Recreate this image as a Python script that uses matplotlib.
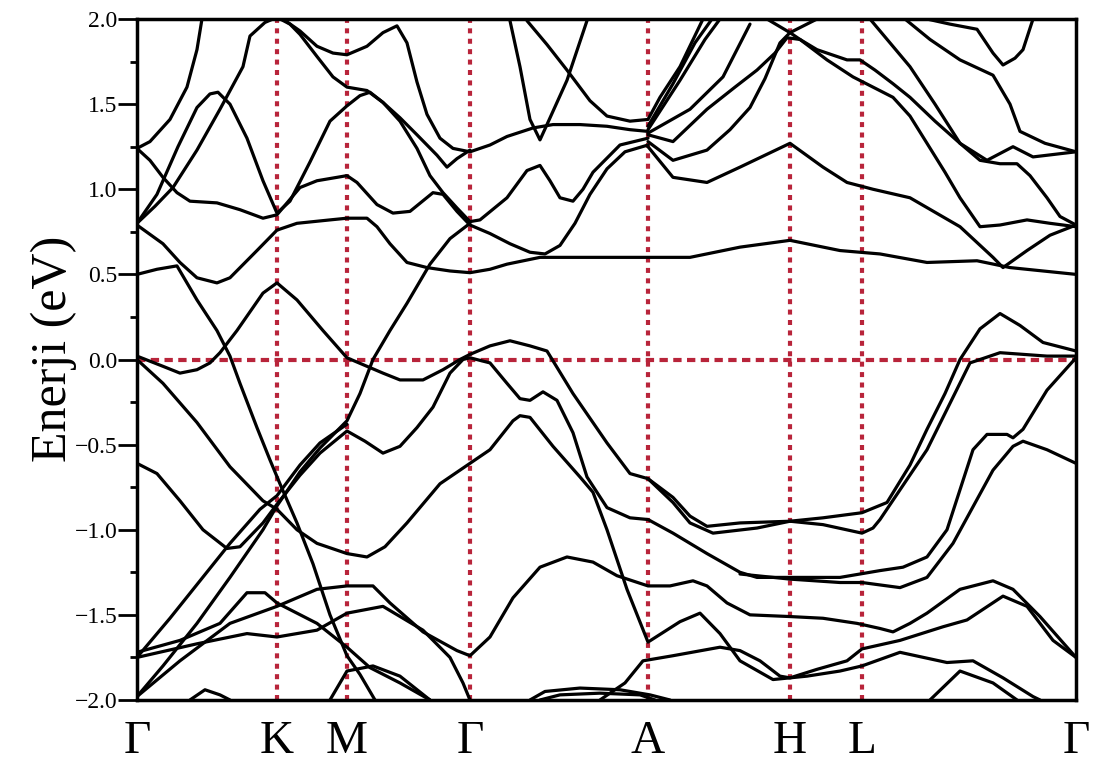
import numpy as np
import matplotlib
matplotlib.use("Agg")
import matplotlib.pyplot as plt
from matplotlib.ticker import MultipleLocator, FuncFormatter

'''Band structure data read from the figure'''

# high symmetry points along the path (path distance, arbitrary units)
kpoint_pos = [137, 277, 347, 470, 648, 790, 862, 1076]
kpoint_labels = ["Γ", "K", "M", "Γ", "A", "H", "L", "Γ"]

# each band: list of (path distance, energy in eV)
bands = [
    # --- upper bands ---
    [(137, 1.24), (150, 1.28), (170, 1.41), (187, 1.60), (197, 1.82), (202, 2.0)],
    [(137, 0.80), (155, 0.90), (173, 1.01), (197, 1.23), (220, 1.47), (243, 1.72), (250, 1.90),
     (265, 1.98), (277, 2.01), (290, 1.97), (300, 1.91), (317, 1.78), (333, 1.66), (347, 1.60),
     (367, 1.58), (383, 1.51), (400, 1.42), (417, 1.32), (437, 1.20), (447, 1.13), (457, 1.18),
     (470, 1.23)],
    [(137, 0.80), (157, 0.97), (178, 1.25), (197, 1.48), (210, 1.56), (218, 1.57), (230, 1.50),
     (247, 1.30), (263, 1.05), (277, 0.86), (290, 0.93), (310, 1.16), (330, 1.40), (347, 1.49),
     (360, 1.55), (370, 1.57), (383, 1.51), (400, 1.40), (417, 1.24), (430, 1.08), (443, 0.98),
     (457, 0.89), (470, 0.81), (480, 0.82), (507, 0.95), (527, 1.11), (540, 1.14), (550, 1.05),
     (560, 0.95), (573, 0.93), (583, 1.00), (593, 1.10), (620, 1.26), (648, 1.30)],
    [(137, 1.24), (150, 1.17), (163, 1.07), (177, 0.98), (190, 0.93), (217, 0.92), (240, 0.88),
     (263, 0.83), (277, 0.85), (300, 1.01), (317, 1.05), (347, 1.08), (357, 1.04), (377, 0.91),
     (393, 0.86), (410, 0.87), (433, 0.98), (443, 0.97), (457, 0.87), (470, 0.79), (490, 0.74),
     (510, 0.68), (530, 0.63), (545, 0.62), (560, 0.67), (575, 0.80), (590, 0.97), (607, 1.12),
     (625, 1.22), (648, 1.26)],
    [(283, 2.0), (300, 1.93), (317, 1.84), (333, 1.80), (347, 1.79), (367, 1.84), (383, 1.92),
     (397, 1.96), (407, 1.86), (417, 1.63), (427, 1.44), (440, 1.30), (453, 1.24), (470, 1.22),
     (490, 1.26), (507, 1.31), (533, 1.36), (553, 1.38), (580, 1.38), (607, 1.37), (630, 1.35),
     (648, 1.34)],
    [(137, 0.79), (163, 0.68), (180, 0.57), (197, 0.48), (217, 0.45), (230, 0.48), (257, 0.64),
     (277, 0.76), (297, 0.80), (330, 0.82), (347, 0.83), (367, 0.83), (377, 0.78), (390, 0.68),
     (407, 0.57), (427, 0.54), (450, 0.52), (470, 0.51), (490, 0.53), (507, 0.56), (540, 0.60),
     (600, 0.60), (648, 0.60), (690, 0.60), (740, 0.66), (790, 0.70), (840, 0.64), (880, 0.62),
     (927, 0.57), (977, 0.58), (1010, 0.54), (1076, 0.50)],
    [(137, 0.50), (157, 0.53), (177, 0.55), (197, 0.35), (217, 0.17), (230, 0.02), (240, -0.14),
     (257, -0.40), (270, -0.59), (280, -0.73), (297, -0.96), (313, -1.20), (330, -1.50),
     (347, -1.74), (360, -1.85), (375, -2.0)],
    [(510, 1.99), (520, 1.72), (530, 1.41), (540, 1.29), (547, 1.38), (567, 1.64), (587, 1.99)],
    [(527, 1.99), (547, 1.85), (567, 1.70), (590, 1.52), (607, 1.43), (630, 1.40), (648, 1.41),
     (660, 1.54), (680, 1.72), (703, 2.0)],
    [(648, 1.37), (673, 1.62), (695, 1.86), (712, 2.0)],
    [(648, 1.35), (680, 1.64), (705, 1.88), (720, 2.0)],
    [(648, 1.33), (690, 1.47), (723, 1.66), (750, 1.97)],
    [(648, 1.32), (673, 1.28), (707, 1.47), (735, 1.60), (757, 1.70), (775, 1.80), (787, 1.89),
     (800, 1.88), (817, 1.82), (847, 1.76), (860, 1.76), (875, 1.70), (893, 1.62), (910, 1.54),
     (935, 1.40), (960, 1.27), (980, 1.17), (1000, 1.15), (1017, 1.15), (1030, 1.08),
     (1047, 0.95), (1060, 0.84), (1076, 0.79)],
    [(648, 1.28), (673, 1.17), (707, 1.23), (730, 1.35), (750, 1.48), (765, 1.65), (780, 1.86),
     (790, 1.92), (800, 1.88), (827, 1.76), (853, 1.66), (873, 1.60), (893, 1.54), (910, 1.43),
     (927, 1.27), (945, 1.10), (960, 0.95), (980, 0.78), (1000, 0.79), (1027, 0.82),
     (1050, 0.80), (1076, 0.78)],
    [(648, 1.25), (673, 1.07), (707, 1.04), (740, 1.13), (790, 1.27), (823, 1.13), (847, 1.04),
     (873, 1.00), (910, 0.95), (960, 0.78), (993, 0.60), (1003, 0.54), (1027, 0.64),
     (1050, 0.73), (1076, 0.79)],
    [(767, 2.0), (790, 1.92), (817, 2.0)],
    [(870, 2.0), (910, 1.72), (935, 1.50), (960, 1.27), (987, 1.17), (1013, 1.25), (1033, 1.19),
     (1076, 1.22)],
    [(905, 2.0), (930, 1.88), (960, 1.76), (993, 1.67), (1010, 1.50), (1020, 1.34),
     (1045, 1.27), (1076, 1.22)],
    [(927, 2.0), (950, 1.97), (977, 1.94), (993, 1.80), (1003, 1.73), (1015, 1.77),
     (1023, 1.82), (1033, 2.0)],
    # --- bands around the Fermi level ---
    [(137, 0.02), (163, -0.04), (180, -0.08), (197, -0.06), (210, -0.02), (220, 0.04),
     (237, 0.17), (263, 0.39), (277, 0.45), (297, 0.35), (323, 0.17), (347, 0.01), (367, -0.04),
     (383, -0.08), (400, -0.12), (423, -0.12), (443, -0.06), (460, 0.0), (470, 0.03),
     (490, 0.08), (510, 0.11), (530, 0.08), (547, 0.05), (573, -0.20), (607, -0.49),
     (630, -0.67), (648, -0.70), (673, -0.81), (690, -0.92), (707, -0.98), (740, -0.96),
     (790, -0.95), (823, -0.93), (862, -0.90), (887, -0.84), (910, -0.62), (927, -0.41),
     (945, -0.20), (960, 0.0), (980, 0.18), (1000, 0.27), (1020, 0.20), (1043, 0.10),
     (1076, 0.05)],
    [(648, -0.70), (673, -0.84), (690, -0.96), (713, -1.02), (757, -0.99), (790, -0.95),
     (823, -0.97), (862, -1.02), (873, -0.99), (880, -0.94), (927, -0.53), (970, -0.02),
     (1000, 0.04), (1047, 0.02), (1076, 0.02)],
    [(137, -0.61), (157, -0.67), (180, -0.83), (203, -1.00), (227, -1.11), (240, -1.10),
     (263, -0.96), (277, -0.85), (300, -0.68), (320, -0.55), (347, -0.42), (365, -0.48),
     (383, -0.55), (400, -0.51), (417, -0.40), (433, -0.28), (450, -0.08), (463, 0.0),
     (470, 0.01), (490, -0.02), (507, -0.14), (520, -0.23), (530, -0.24), (543, -0.19),
     (557, -0.24), (573, -0.43), (587, -0.69), (607, -0.87), (630, -0.93), (648, -0.94),
     (673, -1.02), (707, -1.14), (740, -1.25), (757, -1.28), (790, -1.28), (840, -1.28),
     (880, -1.24), (903, -1.22), (927, -1.16), (947, -1.00), (973, -0.53), (987, -0.44),
     (1007, -0.44), (1013, -0.46), (1023, -0.41), (1047, -0.18), (1076, 0.01)],
    [(137, 0.0), (163, -0.14), (197, -0.37), (230, -0.63), (263, -0.83), (277, -0.88),
     (297, -1.00), (317, -1.08), (347, -1.14), (367, -1.16), (385, -1.10), (407, -0.96),
     (440, -0.73), (470, -0.61), (490, -0.53), (513, -0.36), (520, -0.33), (530, -0.34),
     (553, -0.51), (580, -0.69), (593, -0.78), (607, -1.00), (627, -1.35), (648, -1.66),
     (680, -1.54), (700, -1.49), (720, -1.61), (740, -1.77), (773, -1.88), (790, -1.87),
     (817, -1.82), (847, -1.77), (862, -1.70), (900, -1.65), (943, -1.57), (967, -1.53),
     (1003, -1.39), (1027, -1.45), (1053, -1.65), (1076, -1.75)],
    [(137, -1.98), (163, -1.80), (197, -1.55), (230, -1.28), (263, -1.00), (277, -0.86),
     (300, -0.66), (320, -0.52), (347, -0.36), (360, -0.20), (373, 0.0), (390, 0.17),
     (407, 0.33), (430, 0.56), (450, 0.71), (470, 0.80)],
    [(137, -1.75), (170, -1.52), (200, -1.30), (230, -1.08), (260, -0.88), (277, -0.80),
     (300, -0.62), (320, -0.49), (347, -0.38)],
    # --- lower bands ---
    [(137, -1.72), (180, -1.65), (220, -1.55), (247, -1.37), (265, -1.37), (277, -1.43),
     (317, -1.55), (347, -1.69), (370, -1.81), (400, -1.90), (430, -2.0)],
    [(137, -1.75), (197, -1.67), (247, -1.61), (277, -1.63), (317, -1.59), (347, -1.49),
     (383, -1.45), (423, -1.59), (450, -1.75), (463, -1.90), (470, -2.0)],
    [(137, -1.98), (180, -1.77), (230, -1.55), (277, -1.45), (317, -1.35), (347, -1.33),
     (373, -1.33), (390, -1.43), (423, -1.60), (457, -1.71), (470, -1.74), (490, -1.63),
     (513, -1.40), (540, -1.22), (567, -1.16), (593, -1.19), (617, -1.27), (648, -1.33),
     (670, -1.33), (693, -1.30), (707, -1.33), (727, -1.43), (750, -1.50), (790, -1.51),
     (823, -1.52), (857, -1.55), (880, -1.58), (893, -1.60), (910, -1.55), (927, -1.49),
     (960, -1.35), (993, -1.30), (1013, -1.35), (1040, -1.51), (1076, -1.75)],
    [(740, -1.26), (790, -1.29), (840, -1.31), (862, -1.31), (900, -1.34), (927, -1.28),
     (953, -1.08), (993, -0.65), (1013, -0.51), (1023, -0.48), (1047, -0.53), (1076, -0.61)],
    [(600, -2.0), (625, -1.90), (643, -1.77), (673, -1.74), (720, -1.69), (740, -1.71),
     (760, -1.77), (780, -1.86), (790, -1.87), (807, -1.86), (840, -1.83), (862, -1.80),
     (900, -1.72), (947, -1.78), (973, -1.77), (1003, -1.87), (1033, -1.98), (1040, -2.0)],
    [(930, -2.0), (960, -1.83), (993, -1.90), (1017, -2.0)],
    [(530, -2.0), (545, -1.95), (580, -1.93), (620, -1.94), (650, -1.97), (670, -2.0)],
    [(540, -2.0), (560, -1.97), (600, -1.96), (640, -1.97), (655, -2.0)],
    [(330, -2.0), (347, -1.83), (373, -1.80), (400, -1.86), (430, -2.0)],
    [(190, -2.0), (205, -1.94), (220, -1.97), (230, -2.0)],
]

e_min, e_max = -2.0, 2.0
fermi = 0.0


def energy_label(v, pos):
    return f"{v:.1f}".replace('-', '\u2212')


def main():
    plt.rcParams['font.family'] = ['Liberation Serif', 'DejaVu Serif']
    fig = plt.figure(figsize=(11.01, 7.64), dpi=100)
    ax = fig.add_axes([0.1244, 0.0838, 0.8529, 0.8913])

    for band in bands:
        k, e = zip(*band)
        ax.plot(k, e, color='black', lw=2.3, solid_joinstyle='round',
                solid_capstyle='round', zorder=3)

    # high symmetry lines and Fermi level
    red = '#b8243a'
    for kp in kpoint_pos[1:-1]:
        ax.axvline(kp, color=red, lw=3, ls=(0, (1.2, 1.3)), zorder=2)
    ax.axhline(fermi, color=red, lw=3, ls=(0, (2.0, 1.3)), zorder=2)

    ax.set_xlim(kpoint_pos[0], kpoint_pos[-1])
    ax.set_ylim(e_min, e_max)
    ax.set_xticks(kpoint_pos)
    ax.set_xticklabels(kpoint_labels, fontsize=34)
    ax.tick_params(axis='x', length=0, pad=15)

    ax.yaxis.set_major_locator(MultipleLocator(0.5))
    ax.yaxis.set_minor_locator(MultipleLocator(0.25))
    ax.yaxis.set_major_formatter(FuncFormatter(energy_label))
    ax.tick_params(axis='y', which='major', direction='out', length=14, width=2,
                   labelsize=17, pad=0)
    ax.tick_params(axis='y', which='minor', direction='out', length=5, width=2)
    ax.set_ylabel('Enerji (eV)', fontsize=36)
    ax.yaxis.set_label_coords(-0.064, 0.515)

    for s in ax.spines.values():
        s.set_linewidth(2.5)

    fig.savefig('out.png', dpi=100)


if __name__ == "__main__":
    main()
